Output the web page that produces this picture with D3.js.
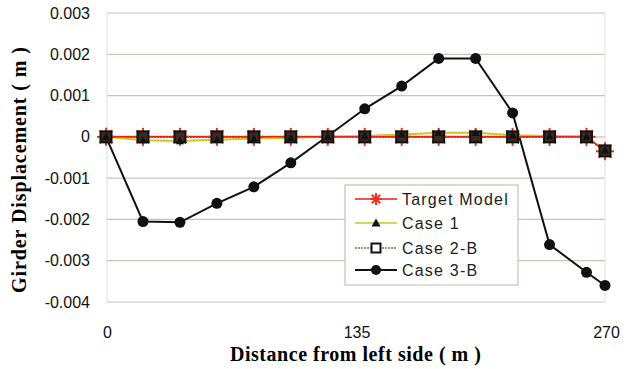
<!DOCTYPE html>
<html><head><meta charset="utf-8">
<script src="https://cdn.jsdelivr.net/npm/d3@7"></script>
<style>body{margin:0;background:#fff}</style>
</head><body>
<svg id="c" width="634" height="369"></svg>
<script>
const xs = [0,20,40,60,80,100,120,140,160,180,200,220,240,260,270];
const targetModel = [0,0,0,0,0,0,0,0,0,0,0,0,0,0,-0.00035];
const case1 = [0,-0.00008,-0.0001,-0.00007,-0.00004,-0.00002,0,0.00002,0.00006,0.0001,0.0001,0.00004,0.00002,0.00001,-0.00033];
const case2B = [0,0,0,0,0,0,0,0,0,0,0,0,0,0,-0.00034];
const case3B = [0,-0.00205,-0.00207,-0.00161,-0.00121,-0.00063,0.00002,0.00068,0.00123,0.0019,0.0019,0.00058,-0.00261,-0.00328,-0.0036];
const yTicks = [0.003,0.002,0.001,0,-0.001,-0.002,-0.003,-0.004];
const yTickLabels = ["0.003","0.002","0.001","0","-0.001","-0.002","-0.003","-0.004"];
const xTicks = [0,135,270];
const seriesNames = ["Target Model","Case 1","Case 2-B","Case 3-B"];

const svg = d3.select("#c");
const x = d3.scaleLinear().domain([0,270]).range([106,605]);
const y = d3.scaleLinear().domain([-0.004,0.003]).range([302,13]);

// grid
svg.append("g").selectAll("line").data(yTicks).join("line")
  .attr("x1",107).attr("x2",605).attr("y1",d=>y(d)).attr("y2",d=>y(d))
  .attr("stroke","#b8a8a0").attr("stroke-width",1.2).attr("opacity",0.7);
svg.append("line").attr("x1",107).attr("x2",107).attr("y1",13).attr("y2",302).attr("stroke","#ddd");
svg.append("line").attr("x1",605).attr("x2",605).attr("y1",13).attr("y2",302).attr("stroke","#f0d8e0");

// axes labels
const yAxis = d3.axisLeft(y).tickValues(yTicks).tickFormat((d,i)=>yTickLabels[i]).tickSize(0).tickPadding(17);
const ya = svg.append("g").attr("transform","translate(107,0)").call(yAxis);
ya.select(".domain").remove();
ya.selectAll("text").attr("font-family","Liberation Sans, Arial, sans-serif").attr("font-size",16).attr("fill","#111");

const xAxis = d3.axisBottom(x).tickValues(xTicks).tickFormat(d3.format("d")).tickSize(0).tickPadding(25);
const xa = svg.append("g").attr("transform","translate(1,302)").call(xAxis);
xa.select(".domain").remove();
xa.selectAll("text").attr("font-family","Liberation Sans, Arial, sans-serif").attr("font-size",16).attr("fill","#111");

svg.append("text").attr("x",230).attr("y",361)
  .attr("font-family","Liberation Serif, Times New Roman, serif").attr("font-weight","bold").attr("font-size",20)
  .attr("textLength",251).attr("lengthAdjust","spacing")
  .text("Distance from left side ( m )");
svg.append("text").attr("transform","translate(26,293) rotate(-90)")
  .attr("font-family","Liberation Serif, Times New Roman, serif").attr("font-weight","bold").attr("font-size",20)
  .attr("textLength",246).attr("lengthAdjust","spacing")
  .text("Girder Displacement ( m )");

const line = d3.line().x((d,i)=>x(xs[i])).y(d=>y(d));

function star(g, cx, cy, r, color){
  for (let k=0;k<4;k++){
    const a = k*Math.PI/4;
    g.append("line").attr("x1",cx-r*Math.cos(a)).attr("y1",cy-r*Math.sin(a))
      .attr("x2",cx+r*Math.cos(a)).attr("y2",cy+r*Math.sin(a))
      .attr("stroke",color).attr("stroke-width",2);
  }
}
function tri(g,cx,cy,s){
  g.append("path").attr("d",`M${cx},${cy-s}L${cx+s},${cy+s*0.8}L${cx-s},${cy+s*0.8}Z`).attr("fill","#111");
}
function sq(g,cx,cy,s,fill){
  g.append("rect").attr("x",cx-s).attr("y",cy-s).attr("width",2*s).attr("height",2*s)
    .attr("fill",fill).attr("stroke","#111").attr("stroke-width",2);
}

// Case 3-B
svg.append("path").datum(case3B).attr("d",line).attr("fill","none").attr("stroke","#111").attr("stroke-width",2);
svg.append("g").selectAll("circle").data(case3B).join("circle")
  .attr("cx",(d,i)=>x(xs[i])).attr("cy",d=>y(d)).attr("r",5.5).attr("fill","#111");

// Case 2-B
svg.append("path").datum(case2B).attr("d",line).attr("fill","none").attr("stroke","#6b4a3a").attr("stroke-width",2).attr("stroke-dasharray","2,1");
// Case 1
svg.append("path").datum(case1).attr("d",line).attr("fill","none").attr("stroke","#c8c820").attr("stroke-width",2);
// Target
svg.append("path").datum(targetModel).attr("d",line).attr("fill","none").attr("stroke","#e82010").attr("stroke-width",1.5);

const mk = svg.append("g");
xs.forEach((xv,i)=>{
  star(mk, x(xv), y(targetModel[i]), 9, "#f03018");
  sq(mk, x(xv), y(case2B[i]), 5.5, "#3a2a20");
  tri(mk, x(xv), y(case1[i]), 4);
});

// legend
const lg = svg.append("g");
lg.append("rect").attr("x",345).attr("y",185).attr("width",173).attr("height",100)
  .attr("fill","#fff").attr("stroke","#cbbcbc").attr("stroke-width",1.2);
const ly = [199,223,248,270];
const lcol = ["#e82010","#c8c820","#8a6a5a","#111"];
seriesNames.forEach((n,i)=>{
  lg.append("line").attr("x1",355).attr("x2",397).attr("y1",ly[i]).attr("y2",ly[i])
    .attr("stroke",lcol[i]).attr("stroke-width",i===3?2:1.5).attr("stroke-dasharray",i===2?"2,1":null);
  if(i===0) star(lg,376,ly[i],6,"#f03018");
  if(i===1) tri(lg,376,ly[i],4.5);
  if(i===2) sq(lg,376,ly[i],4.5,"#fff");
  if(i===3) lg.append("circle").attr("cx",376).attr("cy",ly[i]).attr("r",5).attr("fill","#111");
  lg.append("text").attr("x",402).attr("y",ly[i]+6).attr("font-family","Liberation Sans, Arial, sans-serif")
    .attr("font-size",16).attr("letter-spacing","1.2px").attr("fill","#222").text(n);
});
</script>
</body></html>
